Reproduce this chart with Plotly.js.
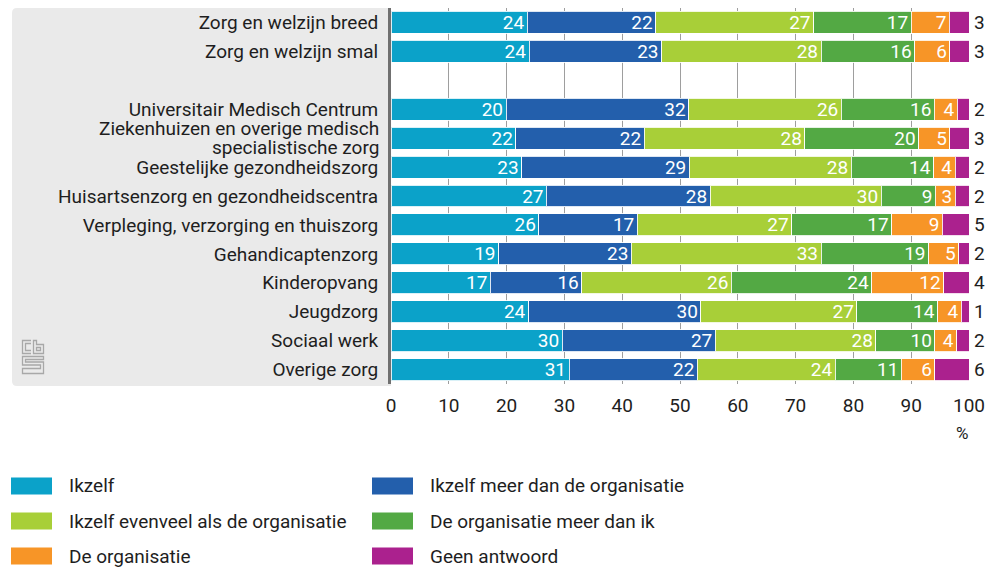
<!DOCTYPE html>
<html>
<head>
<meta charset="utf-8">
<script src="https://cdn.plot.ly/plotly-3.0.1.min.js"></script>
<style>
html,body{margin:0;padding:0;background:#fff;}
#chart{width:992px;height:569px;}
</style>
</head>
<body>
<div id="chart"></div>
<script>
// ---- data ----
const categories = ["Zorg en welzijn breed","Zorg en welzijn smal"," ","Universitair Medisch Centrum","Ziekenhuizen en overige medisch specialistische zorg","Geestelijke gezondheidszorg","Huisartsenzorg en gezondheidscentra","Verpleging, verzorging en thuiszorg","Gehandicaptenzorg","Kinderopvang","Jeugdzorg","Sociaal werk","Overige zorg"];
// category labels as printed (wrapped label split in lines)
const categoryLines = [["Zorg en welzijn breed"],["Zorg en welzijn smal"],[""],["Universitair Medisch Centrum"],["Ziekenhuizen en overige medisch","specialistische zorg"],["Geestelijke gezondheidszorg"],["Huisartsenzorg en gezondheidscentra"],["Verpleging, verzorging en thuiszorg"],["Gehandicaptenzorg"],["Kinderopvang"],["Jeugdzorg"],["Sociaal werk"],["Overige zorg"]];
const seriesNames = ["Ikzelf","Ikzelf meer dan de organisatie","Ikzelf evenveel als de organisatie","De organisatie meer dan ik","De organisatie","Geen antwoord"];
const ikzelf   = [23.6,23.9,null,19.9,21.6,22.6,26.9,25.6,18.6,17.2,23.8,29.6,30.8];
const meer     = [22.2,22.9,null,31.6,22.2,29.0,28.3,17.0,23.0,15.8,29.8,26.5,22.2];
const evenveel = [27.3,27.6,null,26.4,27.8,28.0,29.6,26.7,32.8,25.9,27.0,27.8,23.9];
const orgMeer  = [16.9,16.2,null,16.1,19.7,14.3,9.4,17.3,18.6,24.3,14.0,10.2,11.4];
const org      = [6.6,6.1,null,4.0,5.4,3.7,3.4,8.8,5.2,12.4,4.1,3.8,5.8];
const geen     = [3.4,3.3,null,2.0,3.3,2.4,2.4,4.6,1.8,4.4,1.3,2.1,5.9];
// printed (rounded) labels
const ikzelfLbl   = [24,24,null,20,22,23,27,26,19,17,24,30,31];
const meerLbl     = [22,23,null,32,22,29,28,17,23,16,30,27,22];
const evenveelLbl = [27,28,null,26,28,28,30,27,33,26,27,28,24];
const orgMeerLbl  = [17,16,null,16,20,14,9,17,19,24,14,10,11];
const orgLbl      = [7,6,null,4,5,4,3,9,5,12,4,4,6];
const geenLbl     = [3,3,null,2,3,2,2,5,2,4,1,2,6];
const xTicks = [0,10,20,30,40,50,60,70,80,90,100];

// ---- styles ----
const colors = ["#0ba2c9","#235fac","#a8cf38","#53a944","#f79527","#ab218e"];
const FONT = 'Roboto, "Noto Sans", sans-serif';
const TXT = "#1e1e1e";
const FS = 19;

const values = [ikzelf, meer, evenveel, orgMeer, org, geen];
const labels = [ikzelfLbl, meerLbl, evenveelLbl, orgMeerLbl, orgLbl, geenLbl];

const traces = values.map((v, i) => ({
  type: "bar",
  orientation: "h",
  name: seriesNames[i],
  y: categories,
  x: v,
  width: 0.76,
  marker: {color: colors[i], line: {color: "rgba(255,255,255,0.85)", width: 1}},
  text: i < 5 ? labels[i].map(t => t == null ? "" : String(t)) : undefined,
  textposition: i < 5 ? "inside" : "none",
  insidetextanchor: "end",
  textangle: 0,
  constraintext: "none",
  textfont: {family: FONT, size: FS, color: "#ffffff"},
  hoverinfo: "skip"
}));

// geometry helpers (pixel -> paper)
const L = 391, R = 23, T = 8, B = 185, W = 992, H = 569;
const PW = W - L - R, PH = H - T - B;
const X = px => (px - L) / PW;
const Y = py => (H - B - py) / PH;

const shapes = [];
const annotations = [];

// grey rounded panel behind category labels
(function(){
  const x0 = X(12), x1 = X(391), y0 = Y(386), y1 = Y(8);
  const rx = 5 / PW, ry = 5 / PH;
  shapes.push({type: "path", xref: "paper", yref: "paper", layer: "below",
    path: `M ${x0+rx} ${y1} L ${x1} ${y1} L ${x1} ${y0} L ${x0+rx} ${y0} Q ${x0} ${y0} ${x0} ${y0+ry} L ${x0} ${y1-ry} Q ${x0} ${y1} ${x0+rx} ${y1} Z`,
    fillcolor: "#eaeaea", line: {width: 0}});
})();

// wrapped category labels drawn line by line (tight line spacing as in the reference)
const tickText = categoryLines.map(lines => lines.length === 1 ? lines[0] : "");
categoryLines.forEach((lines, i) => {
  if (lines.length < 2) return;
  const step = 18.5;
  lines.forEach((ln, j) => {
    annotations.push({xref: "paper", yref: "y", x: X(380), y: categories[i], xanchor: "right", yanchor: "middle",
      yshift: ((lines.length - 1) / 2 - j) * step, text: ln, showarrow: false, borderpad: 0,
      font: {family: FONT, size: FS, color: TXT}});
  });
});

// "Geen antwoord" values printed right of the bars
categories.forEach((c, i) => {
  if (geenLbl[i] == null) return;
  annotations.push({xref: "paper", yref: "y", x: 1, y: c, xanchor: "left", xshift: 3,
    text: String(geenLbl[i]), showarrow: false, font: {family: FONT, size: FS, color: TXT}});
});

// unit label
annotations.push({xref: "paper", yref: "paper", x: X(962), y: Y(433), xanchor: "center", yanchor: "middle",
  text: "%", showarrow: false, font: {family: FONT, size: 17, color: TXT}});

// custom legend
const legendOrder = [0, 2, 4, 1, 3, 5];
legendOrder.forEach((si, k) => {
  const col = k < 3 ? 0 : 1, row = k % 3;
  const sx = col === 0 ? 11 : 372;
  const cy = 486 + row * 35;
  shapes.push({type: "rect", xref: "paper", yref: "paper",
    x0: X(sx), x1: X(sx + 41), y0: Y(cy + 8.5), y1: Y(cy - 8.5),
    fillcolor: colors[si], line: {width: 0}});
  annotations.push({xref: "paper", yref: "paper", x: X(sx + 56), y: Y(cy), xanchor: "left", yanchor: "middle",
    text: seriesNames[si], showarrow: false, font: {family: FONT, size: FS, color: TXT}});
});

// CBS logo (inline svg)
const logo = 'data:image/svg+xml;utf8,' + encodeURIComponent(
  '<svg xmlns="http://www.w3.org/2000/svg" width="24" height="36" viewBox="0 0 24 36">' +
  '<g fill="none" stroke="#a8a8a8" stroke-width="1.3">' +
  '<path d="M10 1.5 H1.5 V14.5 H10 M10 4.5 H4.5 V11.5 H10"/>' +
  '<path d="M12.5 1.5 V14.5 H22.5 V5.5 H15.5 V1.5 Z M15.5 8.5 H19.5 V11.5 H15.5 Z"/>' +
  '<path d="M22.5 17.5 H1.5 V26 H19.5 V29.5 H1.5 V34.5 H22.5 V23 H4.5 V20.5 H22.5 Z"/>' +
  '</g></svg>');

const layout = {
  width: W, height: H,
  margin: {l: L, r: R, t: T, b: B, pad: 0},
  paper_bgcolor: "#ffffff",
  plot_bgcolor: "rgba(0,0,0,0)",
  barmode: "stack",
  bargap: 0.24,
  showlegend: false,
  hovermode: false,
  font: {family: FONT, size: FS, color: TXT},
  xaxis: {
    range: [0, 100], tickvals: xTicks, ticktext: xTicks.map(String),
    showgrid: true, gridcolor: "#9e9e9e", gridwidth: 1,
    zeroline: false, showline: false, ticks: "",
    ticklabelstandoff: 8,
    tickfont: {family: FONT, size: FS, color: TXT},
    fixedrange: true
  },
  yaxis: {
    type: "category", categoryorder: "array", categoryarray: categories,
    tickvals: categories, ticktext: tickText,
    autorange: "reversed",
    showgrid: false, zeroline: false,
    showline: true, linecolor: "#707070", linewidth: 3,
    ticks: "", ticklabelstandoff: 6,
    tickfont: {family: FONT, size: FS, color: TXT},
    fixedrange: true
  },
  shapes: shapes,
  annotations: annotations,
  images: [{source: logo, xref: "paper", yref: "paper", x: X(21), y: Y(339),
    sizex: 24 / PW, sizey: 36 / PH, xanchor: "left", yanchor: "top", sizing: "stretch", layer: "above"}]
};

Plotly.newPlot("chart", traces, layout, {displayModeBar: false, staticPlot: true});
</script>
</body>
</html>
